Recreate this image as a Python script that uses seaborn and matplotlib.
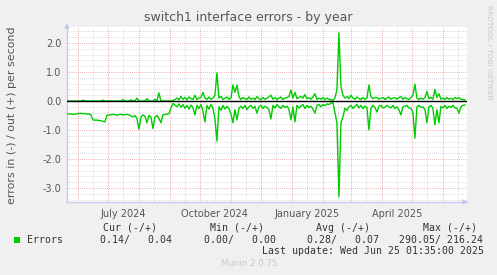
import numpy as np
import pandas as pd
import matplotlib
matplotlib.use("Agg")
import matplotlib.pyplot as plt
import seaborn as sns

# ---- data (sampled every 2 days from 2024-05-21) ----
start_date = "2024-05-21"
errors_in = [  # magnitude of "in" errors, drawn negative
    0.45, 0.44, 0.45, 0.46, 0.45, 0.44, 0.43,
    0.42, 0.44, 0.43, 0.45, 0.44, 0.48,
    0.65, 0.66, 0.66, 0.67, 0.68, 0.70, 0.72,
    0.50,
    0.47, 0.48, 0.46, 0.47, 0.49, 0.47, 0.46, 0.48, 0.47, 0.46, 0.48,
    0.52, 0.55, 0.50, 0.60,
    0.97,
    0.55, 0.48, 0.52,
    0.75,
    0.50, 0.55,
    0.95,
    0.55, 0.50,
    0.60, 0.75,
    0.48, 0.46, 0.45, 0.44,
    0.25,
    0.08, 0.14, 0.20, 0.10, 0.22, 0.12, 0.25, 0.15, 0.28, 0.14, 0.22,
    0.48,
    0.15, 0.26, 0.12,
    0.35, 0.72,
    0.15, 0.28, 0.12, 0.24,
    0.60,
    1.38,
    0.20, 0.32, 0.15, 0.28, 0.18, 0.26,
    0.45, 0.75, 0.30, 0.65, 0.25,
    0.18, 0.26, 0.15, 0.30, 0.20, 0.15, 0.26, 0.18,
    0.42,
    0.20, 0.15, 0.26, 0.18, 0.22, 0.30,
    0.62,
    0.15, 0.24, 0.12, 0.20, 0.26, 0.15, 0.22, 0.18, 0.28,
    0.65,
    0.20, 0.72,
    0.15, 0.24, 0.18, 0.12, 0.26, 0.15, 0.22, 0.18, 0.28,
    0.42,
    0.15, 0.12, 0.20, 0.12, 0.16, 0.10, 0.12, 0.08, 0.05,
    0.40, 0.75, 3.30, 0.75, 0.55,
    0.25, 0.32, 0.20, 0.15, 0.26, 0.18, 0.12, 0.24, 0.15, 0.26, 0.18, 0.22,
    1.00,
    0.25, 0.15, 0.22,
    0.38,
    0.18, 0.15, 0.24, 0.22, 0.15, 0.20, 0.24, 0.15, 0.26, 0.20, 0.30,
    0.48,
    0.20, 0.18, 0.15, 0.24, 0.25, 0.40,
    1.28,
    0.20, 0.15, 0.22, 0.20, 0.30,
    0.75,
    0.20, 0.15, 0.25,
    0.82, 0.30, 0.75,
    0.18, 0.24, 0.15, 0.26, 0.18, 0.22, 0.15, 0.24, 0.25,
    0.42,
    0.20, 0.15, 0.14,
]
errors_out = [
    0.0, 0.0, 0.0, 0.0, 0.0, 0.0, 0.0,
    0.0, 0.03, 0.0, 0.0, 0.0, 0.0,
    0.0, 0.0, 0.0, 0.0, 0.0, 0.03, 0.0,
    0.0,
    0.0, 0.0, 0.0, 0.0, 0.0, 0.0, 0.0, 0.05, 0.0, 0.0, 0.0,
    0.04, 0.0, 0.0, 0.10,
    0.0,
    0.0, 0.0, 0.0,
    0.08,
    0.0, 0.0,
    0.0,
    0.06, 0.0,
    0.28, 0.0,
    0.0, 0.0, 0.0, 0.0,
    0.0,
    0.02, 0.05, 0.10, 0.04, 0.16, 0.06, 0.12, 0.04, 0.14, 0.08, 0.05,
    0.20,
    0.05, 0.10, 0.12,
    0.30, 0.10,
    0.05, 0.14, 0.06, 0.10,
    0.20,
    0.97,
    0.10, 0.16, 0.05, 0.10, 0.14, 0.06,
    0.10, 0.55, 0.30, 0.55, 0.15,
    0.05, 0.12, 0.08, 0.05, 0.14, 0.06, 0.10, 0.05,
    0.15,
    0.08, 0.05, 0.12, 0.06, 0.10, 0.14,
    0.20,
    0.06, 0.12, 0.05, 0.10, 0.14, 0.05, 0.10, 0.12, 0.15,
    0.38,
    0.10, 0.30,
    0.08, 0.12, 0.16, 0.10, 0.22, 0.08, 0.12, 0.06, 0.14,
    0.25,
    0.05, 0.10, 0.06, 0.12, 0.05, 0.10, 0.06, 0.04, 0.02,
    0.10, 0.40, 2.35, 0.50, 0.20,
    0.10, 0.16, 0.08, 0.20, 0.10, 0.06, 0.14, 0.08, 0.05, 0.12, 0.06, 0.10,
    0.55,
    0.15, 0.08, 0.12,
    0.12,
    0.06, 0.10, 0.12, 0.05, 0.10, 0.14, 0.06, 0.10, 0.12, 0.06, 0.12,
    0.15,
    0.06, 0.12, 0.08, 0.05, 0.12, 0.20,
    0.58,
    0.10, 0.05, 0.10, 0.06, 0.12,
    0.33,
    0.08, 0.12, 0.06,
    0.40, 0.12, 0.25,
    0.06, 0.10, 0.05, 0.12, 0.06, 0.10, 0.05, 0.12, 0.08,
    0.12,
    0.06, 0.05, 0.04,
]
title = "switch1 interface errors - by year"
ylabel = "errors in (-) / out (+) per second"
tick_months = ["2024-07-16", "2024-10-16", "2025-01-16", "2025-04-16"]
tick_labels = ["July 2024", "October 2024", "January 2025", "April 2025"]
legend_name = "Errors"
stat_headers = ["Cur (-/+)", "Min (-/+)", "Avg (-/+)", "Max (-/+)"]
stat_values = ["0.14/   0.04", "0.00/   0.00", "0.28/   0.07", "290.05/ 216.24"]
last_update = "Last update: Wed Jun 25 01:35:00 2025"
footer = "Munin 2.0.75"
side_text = "RRDTOOL / TOBI OETIKER"

n = min(len(errors_in), len(errors_out))
dates = pd.date_range(start_date, periods=n, freq="2D")
df = pd.concat([
    pd.DataFrame({"date": dates, "value": -np.array(errors_in[:n]), "dir": "in"}),
    pd.DataFrame({"date": dates, "value": np.array(errors_out[:n]), "dir": "out"}),
])

W, H = 497, 275
fig = plt.figure(figsize=(W / 100, H / 100), dpi=100, facecolor="#F0F0F0")
L, R, T, B = 67, 467, 27, 202
ax = fig.add_axes([L / W, 1 - B / H, (R - L) / W, (B - T) / H])
ax.set_facecolor("#FFFFFF")

green = "#00CC00"
sns.lineplot(data=df, x="date", y="value", hue="dir", units="dir", estimator=None,
             palette={"in": green, "out": green}, legend=False, lw=1.0, ax=ax, zorder=3)
ax.axhline(0, color="black", lw=1.0, zorder=4)

x0 = pd.Timestamp("2024-05-21 01:35")
x1 = pd.Timestamp("2025-06-25 01:35")
ax.set_xlim(x0, x1)
ax.set_ylim(-3.48, 2.55)

red_grid = "#E89494"
gray_grid = "#CFCFCF"
dots = (0, (1, 1.5))
for m in pd.date_range("2024-06-01", "2025-06-01", freq="MS"):
    ax.axvline(m, color=red_grid, lw=0.6, ls=dots, zorder=1)
for m in pd.date_range("2024-05-16", "2025-06-16", freq="MS") + pd.Timedelta(days=15):
    if x0 < m < x1:
        ax.axvline(m, color=gray_grid, lw=0.6, ls=dots, zorder=0.9)
for v in np.arange(-3.4, 2.55, 0.2):
    if abs(v - round(v)) < 1e-6:
        ax.axhline(v, color=red_grid, lw=0.6, ls=dots, zorder=1)
    else:
        ax.axhline(v, color=gray_grid, lw=0.6, ls=dots, zorder=0.9)

ax.set_yticks([-3, -2, -1, 0, 1, 2])
ax.set_yticklabels([f"{v:.1f}" for v in [-3, -2, -1, 0, 1, 2]])
ax.set_xticks([pd.Timestamp(t) for t in tick_months])
ax.set_xticklabels(tick_labels)
ax.tick_params(axis="both", length=0, labelsize=7, colors="#555555", pad=4)
ax.tick_params(axis="x", pad=5)
ax.set_xlabel("")
ax.set_ylabel("")
for s in ["top", "right"]:
    ax.spines[s].set_visible(False)
for s in ["left", "bottom"]:
    ax.spines[s].set_color("#C8C8F0")
    ax.spines[s].set_linewidth(1.0)
ax.annotate("", xy=(0, 1.04), xytext=(0, 0.98), xycoords="axes fraction",
            arrowprops=dict(arrowstyle="-|>", color="#C8C8F0", lw=1, mutation_scale=7),
            annotation_clip=False)
ax.annotate("", xy=(1.01, 0), xytext=(0.98, 0), xycoords="axes fraction",
            arrowprops=dict(arrowstyle="-|>", color="#C8C8F0", lw=1, mutation_scale=7),
            annotation_clip=False)

def fx(px):
    return px / W

def fy(py):
    return 1 - py / H

fig.text(fx(248), fy(17), title, ha="center", va="center", fontsize=9, color="#555555")
fig.text(fx(12), fy(115), ylabel, ha="center", va="center", rotation=90,
         fontsize=7.9, color="#555555")
fig.text(fx(489), fy(5), side_text, ha="center", va="top", rotation=270,
         fontsize=5.3, color="#C8C8C8")

mono = "DejaVu Sans Mono"
fs = 7.1
fig.patches.append(plt.Rectangle((fx(14), fy(243)), 6 / W, 6 / H, transform=fig.transFigure,
                                 facecolor=green, edgecolor="none"))
fig.text(fx(27), fy(240), legend_name, ha="left", va="center", family=mono, fontsize=fs, color="#333333")
for x, h in zip([103, 210, 316, 423], stat_headers):
    fig.text(fx(x), fy(228), h, ha="left", va="center", family=mono, fontsize=fs, color="#333333")
for x, v in zip([100, 204, 307, 399], stat_values):
    fig.text(fx(x), fy(240), v, ha="left", va="center", family=mono, fontsize=fs, color="#333333")
fig.text(fx(262), fy(251), last_update, ha="left", va="center", family=mono, fontsize=fs, color="#333333")
fig.text(fx(249), fy(264), footer, ha="center", va="center", fontsize=6.2, color="#C8C8C8")

fig.savefig("out.png", dpi=100, facecolor=fig.get_facecolor())
